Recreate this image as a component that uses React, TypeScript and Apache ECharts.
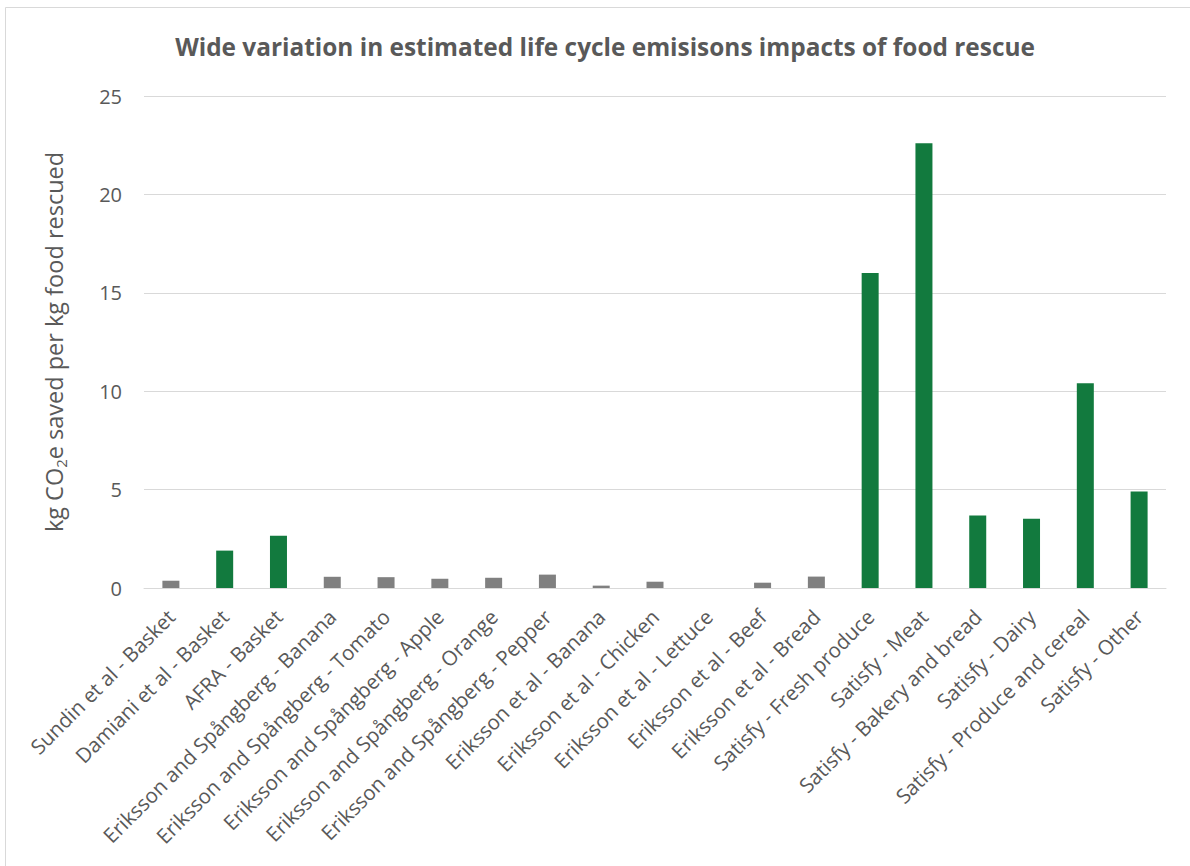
import React, { useEffect, useRef } from "react";
import * as echarts from "echarts";

const categories = [
  "Sundin et al - Basket",
  "Damiani et al - Basket",
  "AFRA - Basket",
  "Eriksson and Spångberg - Banana",
  "Eriksson and Spångberg - Tomato",
  "Eriksson and Spångberg - Apple",
  "Eriksson and Spångberg - Orange",
  "Eriksson and Spångberg - Pepper",
  "Eriksson et al - Banana",
  "Eriksson et al - Chicken",
  "Eriksson et al - Lettuce",
  "Eriksson et al - Beef",
  "Eriksson et al - Bread",
  "Satisfy - Fresh produce",
  "Satisfy - Meat",
  "Satisfy - Bakery and bread",
  "Satisfy - Dairy",
  "Satisfy - Produce and cereal",
  "Satisfy - Other",
];

const values = [
  0.37, 1.9, 2.66, 0.57, 0.55, 0.47, 0.52, 0.68, 0.12, 0.32, 0, 0.27, 0.58,
  16.0, 22.6, 3.68, 3.52, 10.4, 4.9,
];

const highlighted = [
  false, true, true, false, false, false, false, false, false, false, false,
  false, false, true, true, true, true, true, true,
];

const yTicks = [0, 5, 10, 15, 20, 25];

const GREEN = "#127a3e";
const GRAY = "#808080";
const TEXT = "#595959";
const GRID = "#d9d9d9";
const FONT = "'Open Sans', sans-serif";

export default function App() {
  const ref = useRef<HTMLDivElement>(null);

  useEffect(() => {
    if (!ref.current) return;
    const chart = echarts.init(ref.current, null, { renderer: "svg" });
    chart.setOption({
      animation: false,
      backgroundColor: "#ffffff",
      title: {
        text: "Wide variation in estimated life cycle emisisons impacts of food rescue",
        left: 600,
        textAlign: "center",
        top: 29,
        textStyle: {
          fontFamily: FONT,
          fontSize: 24.4,
          fontWeight: "bold",
          color: TEXT,
        },
      },
      graphic: [
        {
          type: "line",
          shape: { x1: 5.5, y1: 7.5, x2: 1190, y2: 7.5 },
          style: { stroke: GRID, lineWidth: 1 },
        },
        {
          type: "line",
          shape: { x1: 5.5, y1: 7.5, x2: 5.5, y2: 866 },
          style: { stroke: GRID, lineWidth: 1 },
        },
      ],
      grid: {
        left: 144,
        right: 24,
        top: 96,
        bottom: 278,
        containLabel: false,
      },
      xAxis: {
        type: "category",
        data: categories,
        axisLine: { show: true, lineStyle: { color: GRID, width: 1 } },
        axisTick: { show: false },
        axisLabel: {
          interval: 0,
          rotate: 45,
          margin: 25,
          fontFamily: FONT,
          fontSize: 20.5,
          color: TEXT,
        },
      },
      yAxis: {
        type: "value",
        min: yTicks[0],
        max: yTicks[yTicks.length - 1],
        interval: 5,
        name: "kg CO{sub|2}e saved per kg food rescued",
        nameLocation: "middle",
        nameRotate: 90,
        nameGap: 76,
        nameTextStyle: {
          fontFamily: FONT,
          fontSize: 23.5,
          color: TEXT,
          rich: {
            sub: {
              fontFamily: FONT,
              fontSize: 15,
              color: TEXT,
              verticalAlign: "bottom",
              padding: [13, 0, 0, 0],
            },
          },
        },
        axisLine: { show: false },
        axisTick: { show: false },
        axisLabel: {
          margin: 22,
          fontFamily: FONT,
          fontSize: 20,
          color: TEXT,
        },
        splitLine: { show: true, lineStyle: { color: GRID, width: 1 } },
      },
      series: [
        {
          type: "bar",
          barWidth: 17,
          data: values.map((v, i) => ({
            value: v,
            itemStyle: { color: highlighted[i] ? GREEN : GRAY },
          })),
        },
      ],
    });
    return () => chart.dispose();
  }, []);

  return (
    <div
      ref={ref}
      style={{ position: "fixed", left: 0, top: 0, width: 1190, height: 866 }}
    />
  );
}
